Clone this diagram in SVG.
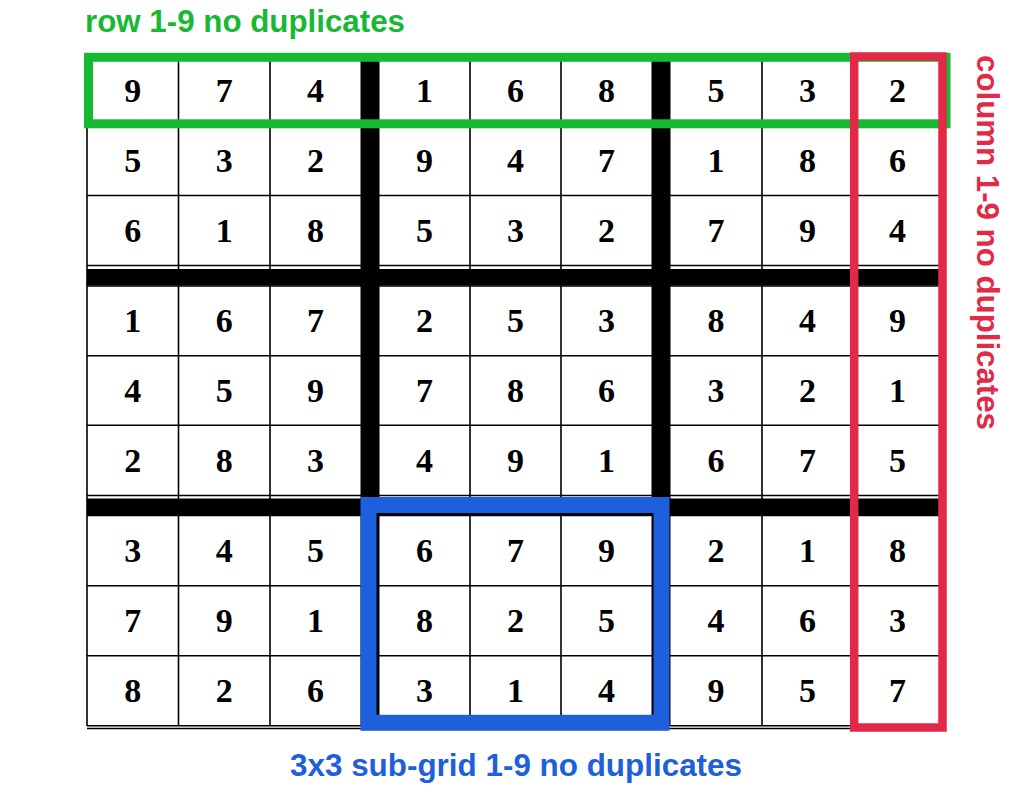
<svg xmlns="http://www.w3.org/2000/svg" width="1024" height="790" viewBox="0 0 1024 790">
<style>
.thin{stroke:#000;stroke-width:1.6;fill:none}
.thick{fill:#000}
.d{font-family:"Liberation Serif","Times New Roman",serif;font-weight:bold;font-size:34px;fill:#000;text-anchor:middle}
.lbl{font-family:"Liberation Sans",Arial,Helvetica,sans-serif;font-weight:bold;font-size:32px}
</style>
<rect width="1024" height="790" fill="#fff"/>
<g id="grid">
<g id="gridlines">
<path class="thin" d="M87,56V726M178.5,56V726M270,56V726M470,56V726M561,56V726M762,56V726M853,56V726M941,56V728.5"/>
<path class="thin" d="M87,56H941M87,126H941M87,195.5H941M87,265.5H941M87,286H941M87,355.7H941M87,425.3H941M87,495.5H941M87,515.5H941M87,585.7H941M87,655.7H941M87,725.7H941M87,728.5H941"/>
<rect class="thick" x="360.5" y="56" width="19" height="670"/>
<rect class="thick" x="651.5" y="56" width="19" height="670"/>
<rect class="thick" x="87" y="269" width="854" height="16.5"/>
<rect class="thick" x="87" y="498.5" width="854" height="16.5"/>
</g>
<g id="digits">
<text class="d" x="132.7" y="101.5">9</text><text class="d" x="224.2" y="101.5">7</text><text class="d" x="315.5" y="101.5">4</text><text class="d" x="424.5" y="101.5">1</text><text class="d" x="515.5" y="101.5">6</text><text class="d" x="606.5" y="101.5">8</text><text class="d" x="716" y="101.5">5</text><text class="d" x="807.5" y="101.5">3</text><text class="d" x="897.5" y="101.5">2</text>
<text class="d" x="132.7" y="171.5">5</text><text class="d" x="224.2" y="171.5">3</text><text class="d" x="315.5" y="171.5">2</text><text class="d" x="424.5" y="171.5">9</text><text class="d" x="515.5" y="171.5">4</text><text class="d" x="606.5" y="171.5">7</text><text class="d" x="716" y="171.5">1</text><text class="d" x="807.5" y="171.5">8</text><text class="d" x="897.5" y="171.5">6</text>
<text class="d" x="132.7" y="241.5">6</text><text class="d" x="224.2" y="241.5">1</text><text class="d" x="315.5" y="241.5">8</text><text class="d" x="424.5" y="241.5">5</text><text class="d" x="515.5" y="241.5">3</text><text class="d" x="606.5" y="241.5">2</text><text class="d" x="716" y="241.5">7</text><text class="d" x="807.5" y="241.5">9</text><text class="d" x="897.5" y="241.5">4</text>
<text class="d" x="132.7" y="331.5">1</text><text class="d" x="224.2" y="331.5">6</text><text class="d" x="315.5" y="331.5">7</text><text class="d" x="424.5" y="331.5">2</text><text class="d" x="515.5" y="331.5">5</text><text class="d" x="606.5" y="331.5">3</text><text class="d" x="716" y="331.5">8</text><text class="d" x="807.5" y="331.5">4</text><text class="d" x="897.5" y="331.5">9</text>
<text class="d" x="132.7" y="401.5">4</text><text class="d" x="224.2" y="401.5">5</text><text class="d" x="315.5" y="401.5">9</text><text class="d" x="424.5" y="401.5">7</text><text class="d" x="515.5" y="401.5">8</text><text class="d" x="606.5" y="401.5">6</text><text class="d" x="716" y="401.5">3</text><text class="d" x="807.5" y="401.5">2</text><text class="d" x="897.5" y="401.5">1</text>
<text class="d" x="132.7" y="471.5">2</text><text class="d" x="224.2" y="471.5">8</text><text class="d" x="315.5" y="471.5">3</text><text class="d" x="424.5" y="471.5">4</text><text class="d" x="515.5" y="471.5">9</text><text class="d" x="606.5" y="471.5">1</text><text class="d" x="716" y="471.5">6</text><text class="d" x="807.5" y="471.5">7</text><text class="d" x="897.5" y="471.5">5</text>
<text class="d" x="132.7" y="561.5">3</text><text class="d" x="224.2" y="561.5">4</text><text class="d" x="315.5" y="561.5">5</text><text class="d" x="424.5" y="561.5">6</text><text class="d" x="515.5" y="561.5">7</text><text class="d" x="606.5" y="561.5">9</text><text class="d" x="716" y="561.5">2</text><text class="d" x="807.5" y="561.5">1</text><text class="d" x="897.5" y="561.5">8</text>
<text class="d" x="132.7" y="631.5">7</text><text class="d" x="224.2" y="631.5">9</text><text class="d" x="315.5" y="631.5">1</text><text class="d" x="424.5" y="631.5">8</text><text class="d" x="515.5" y="631.5">2</text><text class="d" x="606.5" y="631.5">5</text><text class="d" x="716" y="631.5">4</text><text class="d" x="807.5" y="631.5">6</text><text class="d" x="897.5" y="631.5">3</text>
<text class="d" x="132.7" y="701.5">8</text><text class="d" x="224.2" y="701.5">2</text><text class="d" x="315.5" y="701.5">6</text><text class="d" x="424.5" y="701.5">3</text><text class="d" x="515.5" y="701.5">1</text><text class="d" x="606.5" y="701.5">4</text><text class="d" x="716" y="701.5">9</text><text class="d" x="807.5" y="701.5">5</text><text class="d" x="897.5" y="701.5">7</text>
</g>
</g>
<g id="subgrid-box">
<rect x="368.5" y="505" width="293" height="217.8" fill="none" stroke="#1e60dc" stroke-width="16"/>
</g>
<g id="row-box">
<rect x="88.5" y="57.3" width="857.5" height="66.5" fill="none" stroke="#17b932" stroke-width="9"/>
</g>
<g id="column-box">
<rect x="854.2" y="56.5" width="88.3" height="671" fill="none" stroke="#e22a48" stroke-width="8.5"/>
</g>
<g id="row-label">
<text class="lbl" x="85" y="31.5" fill="#17b932" textLength="320" lengthAdjust="spacingAndGlyphs">row 1-9 no duplicates</text>
</g>
<g id="column-label">
<text class="lbl" transform="translate(977,55) rotate(90)" x="0" y="0" fill="#e22a48" textLength="375" lengthAdjust="spacingAndGlyphs">column 1-9 no duplicates</text>
</g>
<g id="subgrid-label">
<text class="lbl" x="290" y="775.5" fill="#1e60dc" textLength="452" lengthAdjust="spacingAndGlyphs">3x3 sub-grid 1-9 no duplicates</text>
</g>
</svg>
